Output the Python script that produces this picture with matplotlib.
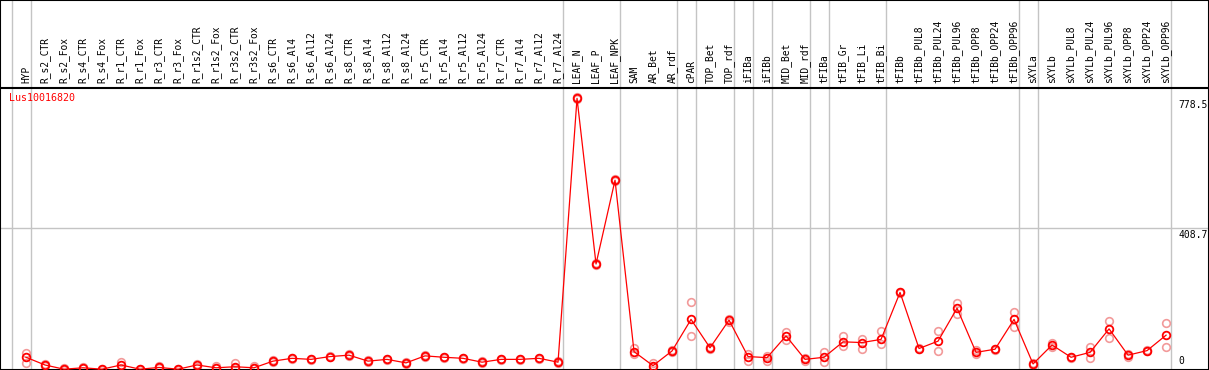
import matplotlib
matplotlib.use("Agg")
import matplotlib.pyplot as plt

# column labels (samples)
labels = ["HYP", "R_s2_CTR", "R_s2_Fox", "R_s4_CTR", "R_s4_Fox", "R_r1_CTR", "R_r1_Fox",
          "R_r3_CTR", "R_r3_Fox", "R_r1s2_CTR", "R_r1s2_Fox", "R_r3s2_CTR", "R_r3s2_Fox",
          "R_s6_CTR", "R_s6_Al4", "R_s6_Al12", "R_s6_Al24", "R_s8_CTR", "R_s8_Al4",
          "R_s8_Al12", "R_s8_Al24", "R_r5_CTR", "R_r5_Al4", "R_r5_Al12", "R_r5_Al24",
          "R_r7_CTR", "R_r7_Al4", "R_r7_Al12", "R_r7_Al24", "LEAF_N", "LEAF_P", "LEAF_NPK",
          "SAM", "AR_Bet", "AR_rdf", "cPAR", "TOP_Bet", "TOP_rdf", "iFIBa", "iFIBb",
          "MID_Bet", "MID_rdf", "tFIBa", "tFIB_Gr", "tFIB_Li", "tFIB_Bi", "tFIBb",
          "tFIBb_PUL8", "tFIBb_PUL24", "tFIBb_PUL96", "tFIBb_OPP8", "tFIBb_OPP24",
          "tFIBb_OPP96", "sXYLa", "sXYLb", "sXYLb_PUL8", "sXYLb_PUL24", "sXYLb_PUL96",
          "sXYLb_OPP8", "sXYLb_OPP24", "sXYLb_OPP96"]

# mean expression
means = [40, 18, 6, 10, 6, 18, 6, 11, 6, 18, 10, 13, 10,
         29, 37, 34, 42, 46, 29, 34, 24, 44, 40, 37, 26, 34, 34, 37, 26,
         778.5, 306, 545, 56, 16, 58, 148, 67, 146, 42, 39, 101, 34,
         40, 84, 82, 91, 225, 65, 86, 180, 54, 63, 148,
         21, 75, 40, 54, 121, 46, 59, 103]

# replicates
rep_hi = [53, 22, 8, 12, 7, 26, 7, 14, 7, 22, 14, 24, 14,
          31, 39, 36, 44, 48, 31, 36, 26, 46, 42, 39, 28, 36, 36, 39, 28,
          781, 308, 548, 66, 24, 60, 197, 70, 150, 49, 44, 113, 38,
          56, 101, 93, 115, 227, 67, 115, 196, 62, 65, 168,
          24, 80, 42, 68, 143, 50, 61, 137]
rep_lo = [25, 15, 4, 8, 5, 10, 5, 9, 5, 12, 8, 8, 8,
          27, 35, 32, 40, 44, 27, 32, 22, 42, 38, 35, 24, 32, 32, 35, 24,
          776, 304, 543, 50, 12, 55, 100, 64, 142, 30, 30, 89, 30,
          26, 72, 63, 77, 223, 63, 58, 163, 48, 60, 125,
          18, 70, 37, 39, 96, 41, 57, 68]

gene = "Lus10016820"
# group separators are drawn right after these columns
sep_after = [-1, 0, 28, 31, 34, 35, 37, 38, 39, 41, 42, 45, 52, 53, 60]
ytick_vals = [778.5, 408.7]

x = list(range(len(labels)))
red = "#ff0000"
pink = "#f29a9a"
grey = "#c4c4c4"

fig = plt.figure(figsize=(12.09, 3.70), dpi=100)
head = 88 / 370
ax = fig.add_axes([0, 0, 1, 1 - head])
axh = fig.add_axes([0, 1 - head, 1, head], sharex=ax)

ax.set_xlim(-1.368, 62.26)
ax.set_ylim(3.7, 807.9)
axh.set_ylim(0, 1)

for s in sep_after:
    ax.axvline(s + 0.24, color=grey, lw=1, zorder=1)
    axh.axvline(s + 0.24, color=grey, lw=1, zorder=1)
ax.axhline(ytick_vals[1], color=grey, lw=1, zorder=1)

ax.plot(x, rep_hi, ls="none", marker="o", ms=5.5, mfc="none", mec=pink, mew=1.2, zorder=2)
ax.plot(x, rep_lo, ls="none", marker="o", ms=5.5, mfc="none", mec=pink, mew=1.2, zorder=2)
ax.plot(x, means, color=red, lw=0.9, marker="o", ms=5.5, mfc="none", mec=red, mew=1.3, zorder=3)

for xi, lab in zip(x, labels):
    axh.text(xi, 5 / 88, lab, rotation=90, ha="center", va="bottom",
             family="DejaVu Sans Mono", fontsize=6.9)

ax.text(-0.9, 795, gene, color=red, ha="left", va="top",
        family="DejaVu Sans Mono", fontsize=7.2)
for v in ytick_vals:
    ax.text(60.65, v - 5, f"{v}", ha="left", va="top",
            family="DejaVu Sans Mono", fontsize=7)
ax.text(60.65, 14, "0", ha="left", va="bottom", family="DejaVu Sans Mono", fontsize=7)

for a in (ax, axh):
    a.set_xticks([])
    a.set_yticks([])
    for sp in a.spines.values():
        sp.set_color("black")
        sp.set_linewidth(1.5)
ax.spines["top"].set_visible(False)

fig.savefig("out.png", dpi=100)
